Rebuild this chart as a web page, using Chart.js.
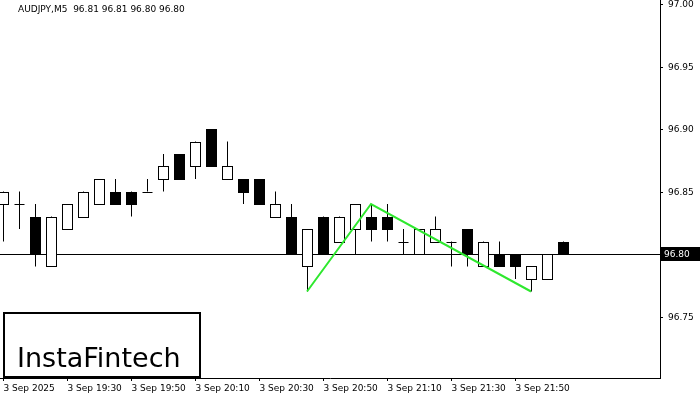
<!DOCTYPE html>
<html>
<head>
<meta charset="UTF-8">
<script src="https://cdn.jsdelivr.net/npm/chart.js"></script>
<style>
  body { margin: 0; background: #fff; }
  #wrap { position: relative; width: 700px; height: 400px; }
</style>
</head>
<body>
<div id="wrap"><canvas id="chart" width="700" height="400"></canvas></div>
<script>
// candle data (M5), index 0 = 19:10
const opens  = [96.84,96.84,96.83,96.79,96.82,96.83,96.84,96.85,96.85,96.85,96.86,96.88,96.87,96.90,96.86,96.86,96.86,96.83,96.83,96.79,96.83,96.81,96.82,96.83,96.83,96.81,96.80,96.81,96.81,96.82,96.79,96.80,96.80,96.78,96.78,96.81];
const highs  = [96.85,96.85,96.84,96.83,96.84,96.85,96.86,96.86,96.85,96.86,96.88,96.88,96.89,96.90,96.89,96.86,96.86,96.85,96.84,96.82,96.83,96.83,96.84,96.84,96.84,96.82,96.82,96.83,96.81,96.82,96.81,96.81,96.80,96.79,96.80,96.81];
const lows   = [96.81,96.82,96.79,96.79,96.82,96.83,96.84,96.84,96.83,96.85,96.85,96.86,96.86,96.87,96.86,96.84,96.84,96.83,96.80,96.77,96.80,96.81,96.80,96.81,96.81,96.80,96.80,96.81,96.79,96.79,96.79,96.79,96.78,96.77,96.78,96.80];
const closes = [96.85,96.84,96.80,96.83,96.84,96.85,96.86,96.84,96.84,96.85,96.87,96.86,96.89,96.87,96.87,96.85,96.84,96.84,96.80,96.82,96.80,96.83,96.84,96.82,96.82,96.81,96.82,96.82,96.81,96.80,96.81,96.79,96.79,96.79,96.80,96.80];
const timeLabels = ['3 Sep 2025','3 Sep 19:30','3 Sep 19:50','3 Sep 20:10','3 Sep 20:30','3 Sep 20:50','3 Sep 21:10','3 Sep 21:30','3 Sep 21:50'];
const timeIdx = [0,4,8,12,16,20,24,28,32];
const patternIdx = [19,23,33];
const patternVal = [96.77,96.84,96.77];
const priceTicks = [96.75,96.80,96.85,96.90,96.95,97.00];
const lastPrice = 96.80;

const candlePlugin = {
  id: 'candles',
  beforeDatasetsDraw(chart) {
    const ctx = chart.ctx, x = chart.scales.x, y = chart.scales.y, a = chart.chartArea;
    ctx.save();
    ctx.strokeStyle = '#000'; ctx.lineWidth = 1;
    const ly = Math.round(y.getPixelForValue(lastPrice)) + 0.5;
    ctx.beginPath(); ctx.moveTo(a.left, ly); ctx.lineTo(a.right, ly); ctx.stroke();
    for (let i = 0; i < opens.length; i++) {
      const cx = Math.round(x.getPixelForValue(i)) + 0.5;
      ctx.beginPath();
      ctx.moveTo(cx, y.getPixelForValue(highs[i]));
      ctx.lineTo(cx, y.getPixelForValue(lows[i]));
      ctx.stroke();
      const top = Math.round(y.getPixelForValue(Math.max(opens[i], closes[i])));
      const bot = Math.round(y.getPixelForValue(Math.min(opens[i], closes[i])));
      if (top === bot) {
        ctx.beginPath(); ctx.moveTo(cx - 5, top + 0.5); ctx.lineTo(cx + 5, top + 0.5); ctx.stroke();
      } else if (closes[i] > opens[i]) {
        ctx.fillStyle = '#fff';
        ctx.fillRect(cx - 5, top, 10, bot - top);
        ctx.strokeRect(cx - 5, top + 0.5, 10, bot - top);
      } else {
        ctx.fillStyle = '#000';
        ctx.fillRect(cx - 5.5, top, 11, bot - top + 1);
      }
    }
    ctx.restore();
  },
  afterDraw(chart) {
    const ctx = chart.ctx, x = chart.scales.x, y = chart.scales.y, a = chart.chartArea;
    ctx.save();
    ctx.font = '9px "DejaVu Sans"';
    ctx.fillStyle = '#000'; ctx.strokeStyle = '#000'; ctx.lineWidth = 1;
    // price axis labels + ticks
    ctx.textBaseline = 'middle';
    priceTicks.forEach(v => {
      const py = Math.round(y.getPixelForValue(v)) + 0.5;
      ctx.beginPath(); ctx.moveTo(a.right, py); ctx.lineTo(a.right + 3, py); ctx.stroke();
      ctx.fillText(v.toFixed(2), a.right + 8, Math.max(py, 5));
    });
    // time labels + ticks
    ctx.textBaseline = 'top';
    timeIdx.forEach((v, i) => {
      const px = Math.round(x.getPixelForValue(v)) + 0.5;
      ctx.beginPath(); ctx.moveTo(px, a.bottom); ctx.lineTo(px, a.bottom + 3); ctx.stroke();
      ctx.fillText(timeLabels[i], px, a.bottom + 6);
    });
    // price label box
    const py = y.getPixelForValue(lastPrice);
    ctx.fillRect(a.right, py - 7, 40, 14);
    ctx.fillStyle = '#fff';
    ctx.textBaseline = 'middle';
    ctx.fillText(lastPrice.toFixed(2), a.right + 4, py + 0.5);
    // title
    ctx.fillStyle = '#000';
    ctx.fillText('AUDJPY,M5  96.81 96.81 96.80 96.80', 18, 10);
    // logo
    ctx.fillStyle = '#fff';
    ctx.fillRect(3, 312, 198, 66);
    ctx.lineWidth = 2;
    ctx.strokeRect(4, 313, 196, 64);
    ctx.fillStyle = '#000';
    ctx.font = '27px "DejaVu Sans"';
    ctx.fillText('InstaFintech', 17, 360);
    ctx.restore();
  }
};

new Chart(document.getElementById('chart'), {
  type: 'line',
  data: {
    datasets: [{
      data: patternIdx.map((v, i) => ({ x: v, y: patternVal[i] })),
      borderColor: '#2ee82e', borderWidth: 2, pointRadius: 0, tension: 0
    }]
  },
  options: {
    responsive: false, animation: false,
    layout: { padding: 0 },
    plugins: { legend: { display: false }, tooltip: { enabled: false } },
    scales: {
      x: {
        type: 'linear', min: -0.1875, max: 41.06,
        grid: { display: false },
        border: { display: true, color: '#000' },
        afterFit: s => { s.height = 22; },
        ticks: { display: false }
      },
      y: {
        position: 'right', min: 96.7008, max: 97.0032,
        grid: { display: false },
        border: { display: true, color: '#000' },
        afterFit: s => { s.width = 40; },
        ticks: { display: false }
      }
    }
  },
  plugins: [candlePlugin]
});
</script>
</body>
</html>
